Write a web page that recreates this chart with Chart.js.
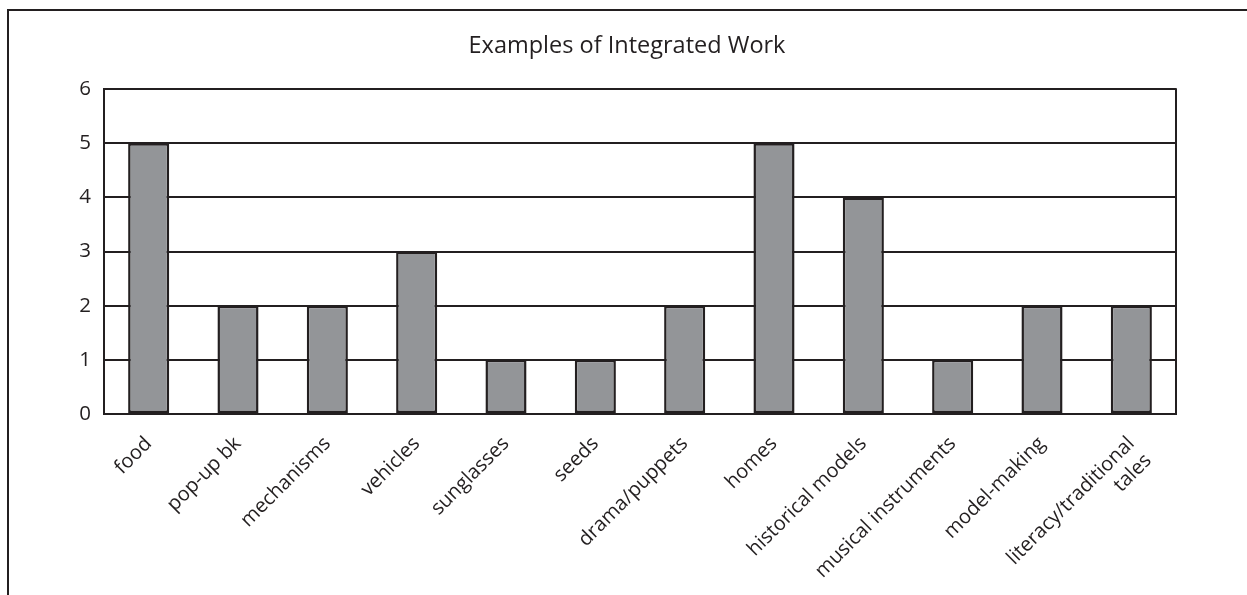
<!DOCTYPE html>
<html>
<head>
<meta charset="utf-8">
<script src="https://cdn.jsdelivr.net/npm/chart.js@4.4.0/dist/chart.umd.min.js"></script>
<style>
  html, body { margin: 0; padding: 0; background: #ffffff; overflow: hidden; }
  #wrap { position: relative; width: 1247px; height: 595px; overflow: hidden; }
  #frame { position: absolute; left: 7px; top: 9px; width: 1400px; height: 800px; border: 2px solid #231f20; box-sizing: border-box; }
  canvas { position: absolute; left: 0; top: 0; }
</style>
</head>
<body>
<div id="wrap">
  <div id="frame"></div>
  <canvas id="c" width="1247" height="595"></canvas>
</div>
<script>
const categories = ['food', 'pop-up bk', 'mechanisms', 'vehicles', 'sunglasses', 'seeds',
  'drama/puppets', 'homes', 'historical models', 'musical instruments', 'model-making',
  ['literacy/traditional', 'tales']];
const counts = [5, 2, 2, 3, 1, 1, 2, 5, 4, 1, 2, 2];
const yTicks = [0, 1, 2, 3, 4, 5, 6];
const chartTitle = 'Examples of Integrated Work';

const ink = '#231f20';
const FONT = "'Open Sans', 'Liberation Sans', sans-serif";

const rightEdge = {
  id: 'rightEdge',
  beforeDatasetsDraw(chart) {
    const a = chart.chartArea, ctx = chart.ctx;
    ctx.save();
    ctx.strokeStyle = ink;
    ctx.lineWidth = 2;
    ctx.beginPath();
    ctx.moveTo(a.right, a.top - 1);
    ctx.lineTo(a.right, a.bottom + 1);
    ctx.stroke();
    ctx.restore();
  }
};

new Chart(document.getElementById('c'), {
  type: 'bar',
  data: {
    labels: categories,
    datasets: [{
      data: counts,
      backgroundColor: '#939598',
      borderColor: ink,
      borderWidth: 2.5,
      borderSkipped: false,
      categoryPercentage: 1,
      barPercentage: 0.46
    }]
  },
  options: {
    responsive: false,
    animation: false,
    devicePixelRatio: 1,
    layout: { padding: { left: 78, right: 71, top: 0, bottom: 0 } },
    plugins: {
      legend: { display: false },
      tooltip: { enabled: false },
      title: {
        display: true,
        text: chartTitle,
        color: ink,
        font: { family: FONT, size: 23.5, weight: 'normal' },
        padding: { top: 32, bottom: 29 }
      }
    },
    scales: {
      x: {
        grid: { display: false },
        border: { display: true, color: ink, width: 2 },
        ticks: {
          color: ink,
          font: { family: FONT, size: 20 },
          minRotation: 45,
          maxRotation: 45,
          autoSkip: false,
          padding: 10
        },
        afterFit(scale) { scale.height = 181; }
      },
      y: {
        min: 0,
        max: 6,
        afterBuildTicks(scale) { scale.ticks = yTicks.map(v => ({ value: v })); },
        grid: { color: ink, lineWidth: 2, drawTicks: false },
        border: { display: true, color: ink, width: 2 },
        ticks: {
          color: ink,
          font: { family: FONT, size: 20.5 },
          padding: 13
        },
        afterFit(scale) { scale.width = 26; }
      }
    }
  },
  plugins: [rightEdge]
});
</script>
</body>
</html>
